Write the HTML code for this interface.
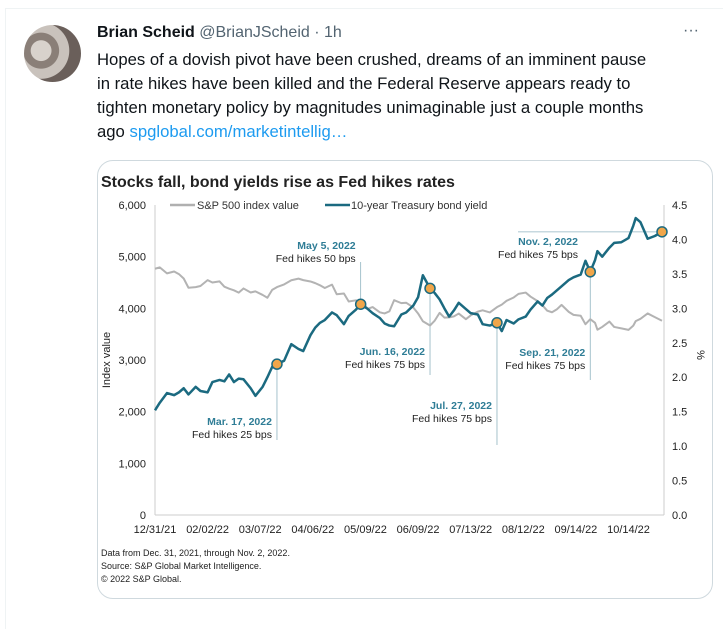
<!DOCTYPE html>
<html><head><meta charset="utf-8">
<style>
body{margin:0;width:723px;height:609px;background:#fff;font-family:"Liberation Sans",sans-serif;position:relative;overflow:hidden;color:#0f1419}
.abs{position:absolute;white-space:nowrap}
</style></head><body>
<div class="abs" style="left:5px;top:8px;width:740px;height:620px;border-left:1px solid #eff3f4;border-top:1px solid #eff3f4"></div>
<div class="abs" style="left:24px;top:25px;width:57px;height:57px;border-radius:50%;background:radial-gradient(circle at 30% 45%,#d8d2cc 0 20%,#8a7f78 21% 35%,#c9c2bc 36% 55%,#6a5f5a 56%)"></div>
<div class="abs" style="left:97px;top:24px;font-size:16px"><b>Brian Scheid</b> <span style="color:#536471">@BrianJScheid · 1h</span></div>
<div class="abs" style="left:683px;top:22px;font-size:16px;color:#536471">···</div>
<div class="abs" style="left:97px;top:48px;font-size:16.7px;line-height:24px">Hopes of a dovish pivot have been crushed, dreams of an imminent pause<br>in rate hikes have been killed and the Federal Reserve appears ready to<br>tighten monetary policy by magnitudes unimaginable just a couple months<br>ago <span style="color:#1d9bf0">spglobal.com/marketintellig…</span></div>
<div class="abs" style="left:97px;top:160px;width:614px;height:437px;border:1px solid #cfd9de;border-radius:16px"></div>
<svg class="abs" style="left:0;top:0" width="723" height="609" font-family="Liberation Sans, sans-serif">
<text x="101" y="187" font-size="16" font-weight="bold" fill="#222">Stocks fall, bond yields rise as Fed hikes rates</text>
<g font-size="11" fill="#333">
<line x1="170" y1="205" x2="195" y2="205" stroke="#b0b0b0" stroke-width="2.5"/>
<text x="197" y="209">S&amp;P 500 index value</text>
<line x1="325" y1="205" x2="350" y2="205" stroke="#1b6a80" stroke-width="2.5"/>
<text x="351" y="209">10-year Treasury bond yield</text>
</g>
<g id="axes"></g>
<g id="ann"></g>
<g id="series"></g>
<text transform="translate(110,360) rotate(-90)" text-anchor="middle" font-size="11" fill="#222">Index value</text>
<text transform="translate(697,355) rotate(90)" text-anchor="middle" font-size="11" fill="#222">%</text>
<g font-size="9" fill="#222">
<text x="101" y="556">Data from Dec. 31, 2021, through Nov. 2, 2022.</text>
<text x="101" y="569">Source: S&amp;P Global Market Intelligence.</text>
<text x="101" y="582">© 2022 S&amp;P Global.</text>
</g>
</svg>
<script>
const dayIdx=[0,2,5,8,10,12,14,17,19,22,24,27,29,31,33,35,37,40,42,45,47,49,51,54,57,60,62,65,67,69,71,74,76,79,81,84,86,89,91,94,96,98,100,103,105,108,110,112,115,117,119,121,123,125,127,130,132,135,137,140,143,145,147,150,152,155,157,160,162,164,166,168,170,173,175,178,180,182,184,185,187,190,192,195,198,200,201,203,206,209,212];
const spx=[4766,4793,4677,4713,4663,4577,4398,4410,4432,4546,4500,4521,4419,4380,4349,4304,4385,4306,4329,4259,4204,4357,4411,4463,4543,4575,4546,4520,4488,4446,4393,4459,4272,4287,4132,4155,4147,3991,4024,3923,3901,3941,4158,4101,4109,4017,3901,3750,3667,3764,3912,3821,3825,3845,3899,3790,3863,3936,3962,3921,4023,4072,4145,4210,4280,4305,4228,4140,4058,3955,3924,3979,4067,3932,3873,3856,3693,3789,3719,3586,3640,3744,3640,3612,3583,3665,3752,3797,3901,3830,3759];
const yld=[1.52,1.63,1.77,1.74,1.78,1.84,1.75,1.86,1.80,1.78,1.93,1.96,1.94,2.04,1.93,1.98,1.97,1.84,1.73,1.86,2.00,2.15,2.19,2.24,2.48,2.41,2.38,2.61,2.72,2.79,2.83,2.94,2.90,2.77,2.89,2.98,3.06,2.99,2.93,2.86,2.78,2.75,2.74,2.91,2.94,3.04,3.16,3.48,3.29,3.22,3.13,3.00,2.88,2.97,3.08,2.99,2.93,2.91,2.77,2.75,2.79,2.67,2.83,2.78,2.84,2.88,2.98,3.10,3.04,3.15,3.20,3.26,3.32,3.41,3.45,3.49,3.69,3.53,3.70,3.83,3.75,3.88,3.95,3.96,4.02,4.20,4.31,4.25,4.01,4.05,4.11];
const xTicks=["12/31/21","02/02/22","03/07/22","04/06/22","05/09/22","06/09/22","07/13/22","08/12/22","09/14/22","10/14/22"];
const leftTicks=[0,1000,2000,3000,4000,5000,6000];
const rightTicks=[0,0.5,1,1.5,2,2.5,3,3.5,4,4.5];
const events=[51,86,115,143,182,212];
const eventDates=["Mar. 17, 2022","May 5, 2022","Jun. 16, 2022","Jul. 27, 2022","Sep. 21, 2022","Nov. 2, 2022"];
const eventText=["Fed hikes 25 bps","Fed hikes 50 bps","Fed hikes 75 bps","Fed hikes 75 bps","Fed hikes 75 bps","Fed hikes 75 bps"];

const NS="http://www.w3.org/2000/svg";
const X0=155,X1=662,Y0=515,Y1=205,DMAX=212;
const x=d=>X0+d/DMAX*(X1-X0);
const yL=v=>Y0-v/6000*(Y0-Y1);
const yR=v=>Y0-v/4.5*(Y0-Y1);
function mk(tag,attrs,parent,txt){const e=document.createElementNS(NS,tag);for(const k in attrs)e.setAttribute(k,attrs[k]);if(txt!==undefined)e.textContent=txt;parent.appendChild(e);return e;}
const axes=document.getElementById('axes'),ann=document.getElementById('ann'),ser=document.getElementById('series');
let e;
e=mk('line',{x1:X0,y1:Y1,x2:X0,y2:Y0,stroke:'#ccc'},axes);


e=mk('line',{x1:X0,y1:Y0,x2:X1+2,y2:Y0,stroke:'#ccc'},axes);


e=mk('line',{x1:X1+2,y1:Y1,x2:X1+2,y2:Y0,stroke:'#ccc'},axes);


leftTicks.forEach(v=>{e=mk('text',{x:146,y:yL(v)+4,'text-anchor':'end','font-size':11,fill:'#222'},axes,v.toLocaleString('en-US'));

});
rightTicks.forEach(v=>{e=mk('text',{x:672,y:yR(v)+4,'font-size':11,fill:'#222'},axes,v.toFixed(1));

});
xTicks.forEach((t,i)=>{e=mk('text',{x:x(i*22),y:533,'text-anchor':'middle','font-size':11,fill:'#222'},axes,t);

});
const yAt=d=>yld[dayIdx.indexOf(d)];
const cfg=[{dir:'down',end:440,ty:425},{dir:'up',end:262,ty:249},{dir:'down',end:375,ty:355},{dir:'down',end:445,ty:409},{dir:'down',end:380,ty:356},{dir:'h',end:518,ty:245}];
events.forEach((d,i)=>{const px=x(d),py=yR(yAt(d)),c=cfg[i];
 if(c.dir==='h'){e=mk('line',{x1:c.end,y1:py,x2:px,y2:py,stroke:'#8fb3c0','stroke-width':0.8},ann);}
 else{e=mk('line',{x1:px,y1:py,x2:px,y2:c.end,stroke:'#8fb3c0','stroke-width':0.8},ann);}
 
 
 const tx=c.dir==='h'?578:px-5;
 e=mk('text',{x:tx,y:c.ty,'text-anchor':'end','font-size':10.5,'font-weight':'bold',fill:'#2f7d96'},ann,eventDates[i]);
 
 
 e=mk('text',{x:tx,y:c.ty+13,'text-anchor':'end','font-size':10.5,fill:'#222'},ann,eventText[i]);
 
 
});
e=mk('polyline',{points:dayIdx.map((d,i)=>x(d)+','+yL(spx[i])).join(' '),fill:'none',stroke:'#b3b3b3','stroke-width':2,'stroke-linejoin':'round'},ser);


e=mk('polyline',{points:dayIdx.map((d,i)=>x(d)+','+yR(yld[i])).join(' '),fill:'none',stroke:'#1b6a80','stroke-width':2.5,'stroke-linejoin':'round'},ser);


events.forEach(d=>{e=mk('circle',{cx:x(d),cy:yR(yAt(d)),r:5,fill:'#f0a64a',stroke:'#1b6a80','stroke-width':1.5},ser);

});
</script>
</body></html>
